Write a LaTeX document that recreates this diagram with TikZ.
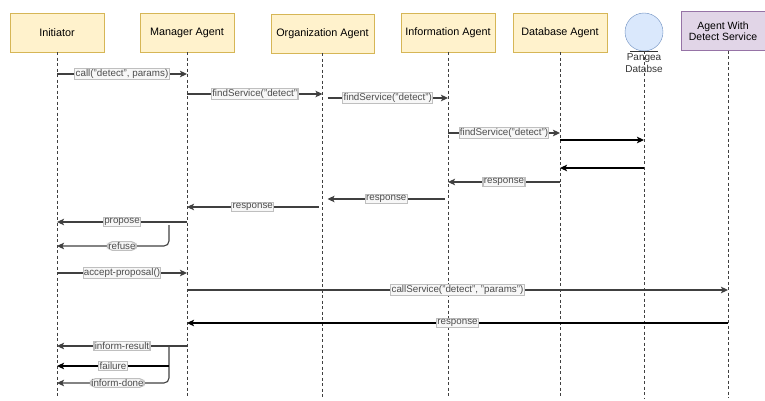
\documentclass[tikz,border=0pt]{standalone}
\usepackage{fontspec}
\setmainfont{Liberation Sans}
\usetikzlibrary{arrows.meta, positioning}

\definecolor{actorfill}{HTML}{FFF2CC}
\definecolor{actordraw}{HTML}{D6B656}
\definecolor{servfill}{HTML}{E1D5E7}
\definecolor{servdraw}{HTML}{9673A6}
\definecolor{dbfill}{HTML}{DAE8FC}
\definecolor{dbdraw}{HTML}{6C8EBF}

\tikzset{
    actor/.style={draw=actordraw, fill=actorfill, minimum width=94pt,
        minimum height=39pt, font=\fontsize{10.8}{12}\selectfont},
    service/.style={actor, draw=servdraw, fill=servfill, minimum width=84pt,
        align=center, font=\fontsize{10.5}{11.5}\selectfont},
    lifeline/.style={draw=black!75, dashed, dash pattern=on 3pt off 2.5pt, line width=0.7pt},
    msg/.style={draw=black!75, line width=1.1pt},
    lbl/.style={fill=black!3, draw=black!25, inner sep=0.8pt, text=black!70,
        font=\fontsize{9.8}{10}\selectfont},
}

\begin{document}
\begin{tikzpicture}[
    x=1pt,
    y=-1pt,
    >={Stealth[length=7pt, width=6.5pt, inset=1.5pt]},
]
    \useasboundingbox (0,0) rectangle (765,401);

    % participants
    \node[actor]   (ini)  at (57,32.5)    {Initiator};
    \node[actor]   (mgr)  at (187,32.5)   {Manager Agent};
    \node[actor, minimum width=103pt]
                   (org)  at (322.5,33.5) {Organization Agent};
    \node[actor]   (inf)  at (448,32.5)   {Information Agent};
    \node[actor]   (dba)  at (560,32.5)   {Database Agent};
    \node[service] (det)  at (723,31)     {Agent With\\Detect Service};
    \node[circle, draw=dbdraw, fill=dbfill, minimum size=38pt, inner sep=0pt]
                   (pdb)  at (644,32)     {};
    \node[below=1pt of pdb, align=center, inner sep=1pt, text=black!80,
        font=\fontsize{10}{12}\selectfont] (pdbname) {Pangea\\Databse};
    \draw[black!80, line width=0.8pt] ([xshift=-14pt]pdb.south) -- ([xshift=14pt]pdb.south);

    % lifelines
    \foreach \p in {ini, mgr, org, inf, dba, pdb}
        \draw[lifeline] (\p.south) -- (\p.south |- 0,398);
    \draw[lifeline] (det.south -| 728,0) -- (728,398);
    \coordinate (detl) at (728,0);

    % messages
    \draw[msg, ->] (ini |- 0,74) -- node[lbl] {call("detect", params)} (mgr |- 0,74);
    \draw[msg, ->] (mgr |- 0,94) -- node[lbl] {findService("detect"} (org |- 0,94);
    \draw[msg, ->] ([xshift=5pt]org |- 0,98) -- node[lbl] {findService("detect")} (inf |- 0,98);
    \draw[msg, ->] (inf |- 0,133) -- node[lbl] {findService("detect")} (dba |- 0,133);
    \draw[msg, ->, draw=black] (dba |- 0,140) -- (pdb |- 0,140);
    \draw[msg, ->, draw=black] (pdb |- 0,168) -- (dba |- 0,168);
    \draw[msg, ->] (dba |- 0,182) -- node[lbl] {response} (inf |- 0,182);
    \draw[msg, ->] ([xshift=-3pt]inf |- 0,199) -- node[lbl] {response} ([xshift=5pt]org |- 0,199);
    \draw[msg, ->] ([xshift=-4pt]org |- 0,207) -- node[lbl] {response} (mgr |- 0,207);
    \draw[msg, ->] (mgr |- 0,222) -- node[lbl] {propose} (ini |- 0,222);

    \coordinate (refuseTop) at (169,225);
    \draw[msg, ->, rounded corners=5pt] (refuseTop) |- node[lbl, pos=0.71] {refuse} (ini |- 0,246);

    \draw[msg, ->] (ini |- 0,273) -- node[lbl] {accept-proposal()} (mgr |- 0,273);
    \draw[msg, ->] (mgr |- 0,290) -- node[lbl] {callService("detect", "params")} (detl |- 0,290);
    \draw[msg, ->, draw=black] (detl |- 0,323) -- node[lbl] {response} (mgr |- 0,323);
    \draw[msg, ->] (mgr |- 0,346) -- node[lbl] {inform-result} (ini |- 0,346);

    \coordinate (informTop) at (169,346);
    \coordinate (failTop) at (169,366);
    \draw[msg, ->, rounded corners=5pt] (informTop) |- node[lbl, pos=0.73] {inform-done} (ini |- 0,383);
    \draw[msg, ->, draw=black] (failTop) -- node[lbl] {failure} (ini |- 0,366);
\end{tikzpicture}
\end{document}
